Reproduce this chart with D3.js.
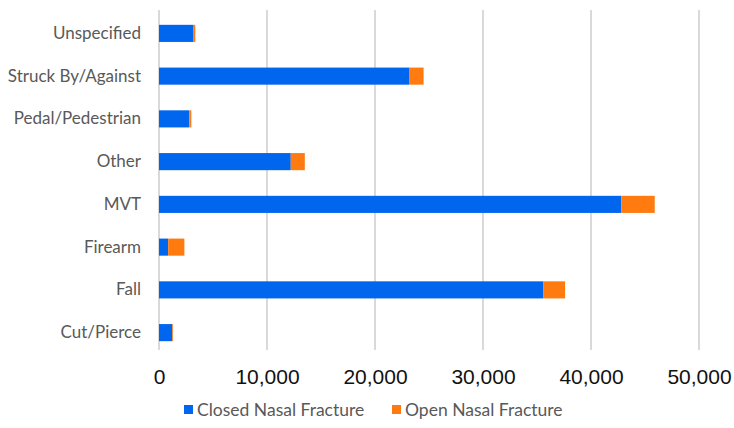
<!DOCTYPE html>
<html>
<head>
<meta charset="utf-8">
<script src="https://cdn.jsdelivr.net/npm/d3@7/dist/d3.min.js"></script>
<style>
  html, body { margin: 0; padding: 0; background: #fff; }
  svg { display: block; }
</style>
</head>
<body>
<svg id="chart" width="734" height="428"></svg>
<script>
const categories = ["Unspecified", "Struck By/Against", "Pedal/Pedestrian", "Other", "MVT", "Firearm", "Fall", "Cut/Pierce"];
const closedNasal = [3200, 23200, 2800, 12200, 42800, 850, 35600, 1230];
const openNasal   = [160, 1300, 190, 1300, 3100, 1500, 2000, 70];
const seriesNames = ["Closed Nasal Fracture", "Open Nasal Fracture"];
const seriesColors = ["#0066EE", "#FF7B0F"];
const xTicks = [0, 10000, 20000, 30000, 40000, 50000];

const svg = d3.select("#chart");
const margin = { left: 159, right: 35, top: 12, bottom: 74 };
const W = 734, H = 428;

const x = d3.scaleLinear().domain([0, 50000]).range([margin.left, W - margin.right]);
const y = d3.scaleBand().domain(categories).range([margin.top, H - margin.bottom]).paddingInner(0.6).paddingOuter(0.3);

// gridlines
svg.append("g")
  .selectAll("line")
  .data(xTicks)
  .join("line")
  .attr("x1", d => x(d)).attr("x2", d => x(d))
  .attr("y1", 10).attr("y2", 350)
  .attr("stroke", "#d9d9d9").attr("stroke-width", 2);

// stacked data
const rows = categories.map((c, i) => ({ cat: c, closed: closedNasal[i], open: openNasal[i] }));
const stack = d3.stack().keys(["closed", "open"])(rows);

svg.append("g").selectAll("g")
  .data(stack)
  .join("g")
  .attr("fill", (d, i) => seriesColors[i])
  .selectAll("rect")
  .data(d => d)
  .join("rect")
  .attr("x", d => x(d[0]))
  .attr("width", d => x(d[1]) - x(d[0]))
  .attr("y", d => y(d.data.cat))
  .attr("height", y.bandwidth());

// x axis labels
const xAxis = d3.axisBottom(x).tickValues(xTicks).tickFormat(d3.format(",")).tickSize(0).tickPadding(0);
const gx = svg.append("g").attr("transform", `translate(0,${H - margin.bottom})`).call(xAxis);
gx.select(".domain").remove();
gx.selectAll("text")
  .attr("y", 30)
  .attr("dy", "0")
  .attr("fill", "#111")
  .style("font-family", "'Liberation Sans', Arial, sans-serif")
  .style("font-size", "21px");

// y axis labels
const yAxis = d3.axisLeft(y).tickSize(0).tickPadding(18);
const gy = svg.append("g").attr("transform", `translate(${margin.left},0)`).call(yAxis);
gy.select(".domain").remove();
gy.selectAll("text")
  .attr("fill", "#595959")
  .style("font-family", "Lato, 'Open Sans', sans-serif")
  .style("font-size", "17px");

// legend
const legendX = [184, 392];
const lg = svg.append("g").selectAll("g")
  .data(seriesNames)
  .join("g")
  .attr("transform", (d, i) => `translate(${legendX[i]},410)`);
lg.append("rect").attr("x", 0).attr("y", -5).attr("width", 9).attr("height", 9)
  .attr("fill", (d, i) => seriesColors[i]);
lg.append("text").attr("x", 13).attr("y", 0).attr("dy", "0.35em")
  .attr("fill", "#595959")
  .style("font-family", "Lato, 'Open Sans', sans-serif")
  .style("font-size", "17.5px")
  .text(d => d);
</script>
</body>
</html>
